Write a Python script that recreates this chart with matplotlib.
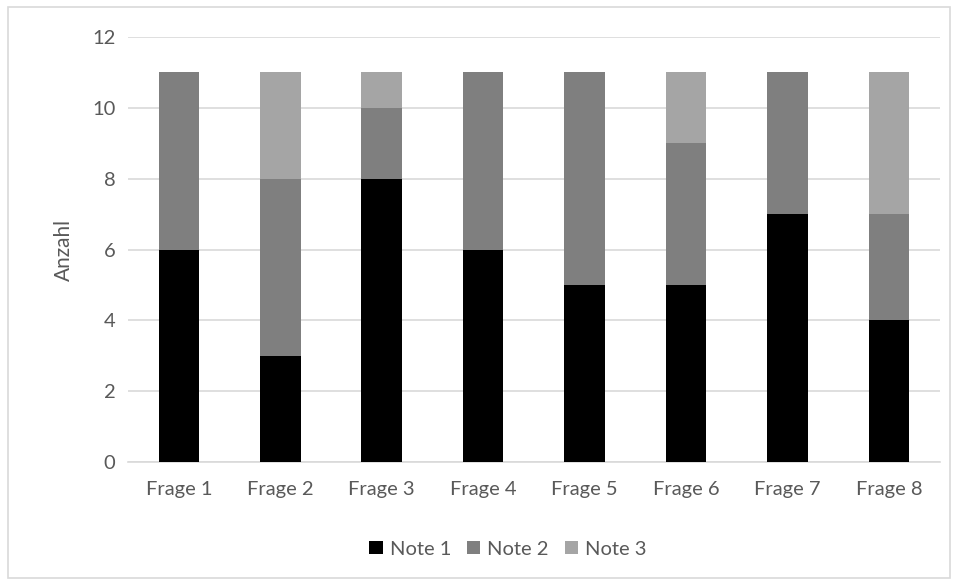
import numpy as np
import matplotlib.pyplot as plt
from matplotlib.patches import Rectangle

# Antworten pro Frage, gestapelt nach Note
fragen = ["Frage 1", "Frage 2", "Frage 3", "Frage 4",
          "Frage 5", "Frage 6", "Frage 7", "Frage 8"]
note_1 = [6, 3, 8, 6, 5, 5, 7, 4]
note_2 = [5, 5, 2, 5, 6, 4, 4, 3]
note_3 = [0, 3, 1, 0, 0, 2, 0, 4]

plt.rcParams['font.family'] = ['Lato', 'DejaVu Sans']

fig = plt.figure(figsize=(9.56, 5.81), dpi=100)
ax = fig.add_axes([0.134, 0.2048, 0.849, 0.7315])

x = np.arange(len(fragen))
breite = 0.4
unten2 = np.array(note_1)
unten3 = unten2 + np.array(note_2)

ax.bar(x, note_1, breite, color="#000000", label="Note 1", zorder=3)
ax.bar(x, note_2, breite, bottom=unten2, color="#7f7f7f", label="Note 2", zorder=3)
ax.bar(x, note_3, breite, bottom=unten3, color="#a5a5a5", label="Note 3", zorder=3)

ax.set_xlim(-0.5, len(fragen) - 0.5)
ax.set_ylim(0, 12)
ax.set_yticks(range(0, 13, 2))
ax.set_xticks(x)
ax.set_xticklabels(fragen)
ax.yaxis.grid(True, color="#d9d9d9", linewidth=1.2, zorder=0)
ax.set_axisbelow(True)

for s in ["top", "right", "left"]:
    ax.spines[s].set_visible(False)
ax.spines["bottom"].set_color("#d9d9d9")
ax.spines["bottom"].set_linewidth(1.2)

ax.tick_params(axis="both", length=0, labelsize=14.5, labelcolor="#595959")
ax.tick_params(axis="y", pad=9)
ax.tick_params(axis="x", pad=14)
ax.set_ylabel("Anzahl", fontsize=15, color="#595959", labelpad=13)

ax.legend(loc="center", bbox_to_anchor=(0.468, -0.205), ncol=3, frameon=False,
          fontsize=14.5, labelcolor="#595959", handlelength=0.65, handleheight=0.65,
          handletextpad=0.35, columnspacing=0.8)

# Rahmen um das Diagramm
fig.patches.append(Rectangle((0.008, 0.005), 0.986, 0.983, transform=fig.transFigure,
                             fill=False, edgecolor="#d9d9d9", linewidth=1.2))

fig.savefig("out.png", dpi=100)
